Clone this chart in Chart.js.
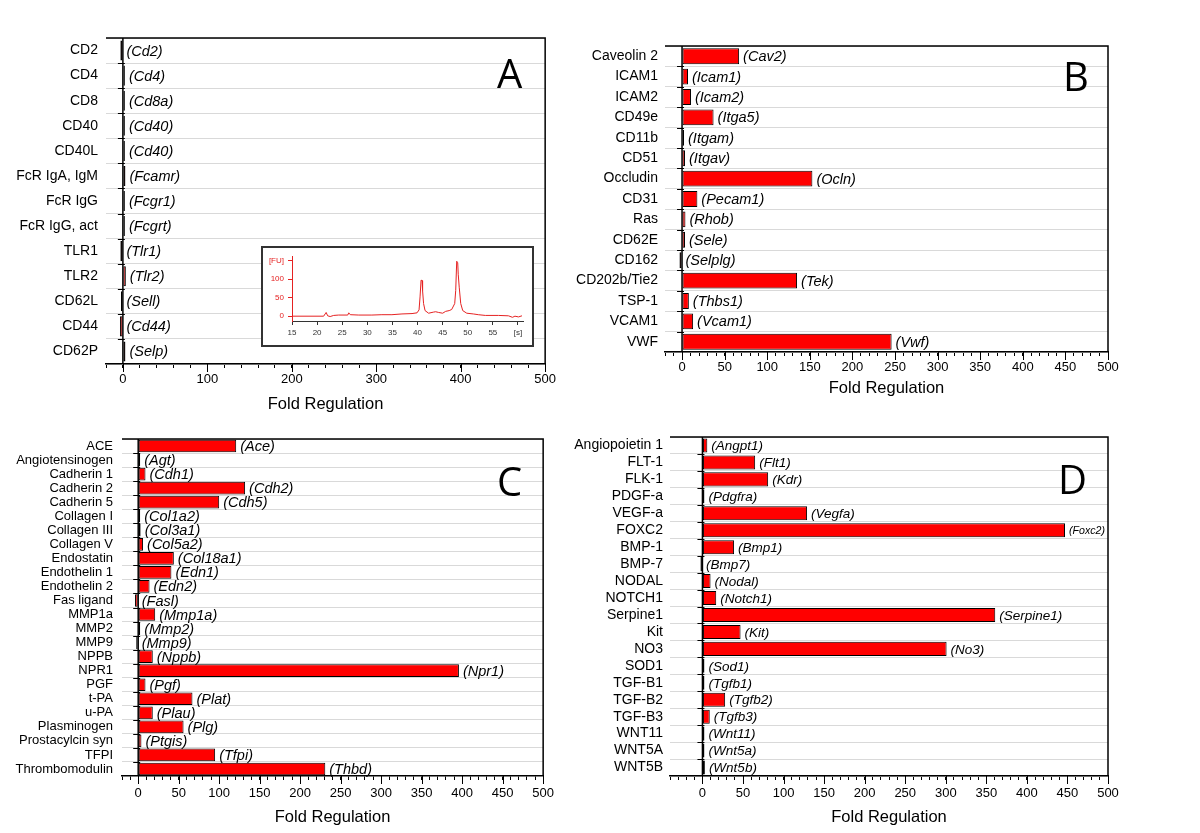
<!DOCTYPE html>
<html lang="en">
<head>
<meta charset="UTF-8">
<title>Fold Regulation</title>
<script src="https://cdn.jsdelivr.net/npm/chart.js"></script>
<style>
  body { margin: 0; background: #fff; }
  #page { position: relative; width: 1200px; height: 833px; overflow: hidden; background: #fff; }
  .panel { position: absolute; }
  .letter {
    position: absolute;
    font-family: 'Open Sans', sans-serif;
    font-size: 40px;
    line-height: 1;
    color: #000;
    z-index: 5;
  }
  #inset {
    position: absolute;
    left: 261px; top: 246px;
    width: 269px; height: 97px;
    border: 2px solid #333;
    background: #fff;
    z-index: 4;
  }
</style>
</head>
<body>
<div id="page">
  <div class="panel" style="left:0;top:0"><canvas id="chartA" width="560" height="420"></canvas></div>
  <div class="panel" style="left:560px;top:0"><canvas id="chartB" width="600" height="410"></canvas></div>
  <div class="panel" style="left:0;top:420px"><canvas id="chartC" width="560" height="413"></canvas></div>
  <div class="panel" style="left:560px;top:420px"><canvas id="chartD" width="600" height="413"></canvas></div>
  <div id="inset"><canvas id="chartInset" width="269" height="97"></canvas></div>
  <div class="letter" style="left:497px;top:53px">A</div>
  <div class="letter" style="left:1063px;top:56px">B</div>
  <div class="letter" style="left:497px;top:461px">C</div>
  <div class="letter" style="left:1058px;top:459px">D</div>
</div>

<script>
  // panel A
  const catA = ['CD2', 'CD4', 'CD8', 'CD40', 'CD40L', 'FcR IgA, IgM', 'FcR IgG', 'FcR IgG, act', 'TLR1', 'TLR2', 'CD62L', 'CD44', 'CD62P'];
  const geneA = ['Cd2', 'Cd4', 'Cd8a', 'Cd40', 'Cd40', 'Fcamr', 'Fcgr1', 'Fcgrt', 'Tlr1', 'Tlr2', 'Sell', 'Cd44', 'Selp'];
  const foldA = [-3, 1, 1, 1, 1, 3, 1, 1.5, -3, 3.5, -1, -3.5, 3];

  // panel B
  const catB = ['Caveolin 2', 'ICAM1', 'ICAM2', 'CD49e', 'CD11b', 'CD51', 'Occludin', 'CD31', 'Ras', 'CD62E', 'CD162', 'CD202b/Tie2', 'TSP-1', 'VCAM1', 'VWF'];
  const geneB = ['Cav2', 'Icam1', 'Icam2', 'Itga5', 'Itgam', 'Itgav', 'Ocln', 'Pecam1', 'Rhob', 'Sele', 'Selplg', 'Tek', 'Thbs1', 'Vcam1', 'Vwf'];
  const foldB = [67, 7, 10.5, 37, 1, 3.5, 153, 18, 4, 3.5, -3, 135, 8, 13, 246];

  // panel C
  const catC = ['ACE', 'Angiotensinogen', 'Cadherin 1', 'Cadherin 2', 'Cadherin 5', 'Collagen I', 'Collagen III', 'Collagen V',
    'Endostatin', 'Endothelin 1', 'Endothelin 2', 'Fas ligand', 'MMP1a', 'MMP2', 'MMP9', 'NPPB', 'NPR1', 'PGF', 't-PA', 'u-PA',
    'Plasminogen', 'Prostacylcin syn', 'TFPI', 'Thrombomodulin'];
  const geneC = ['Ace', 'Agt', 'Cdh1', 'Cdh2', 'Cdh5', 'Col1a2', 'Col3a1', 'Col5a2', 'Col18a1', 'Edn1', 'Edn2', 'Fasl', 'Mmp1a',
    'Mmp2', 'Mmp9', 'Nppb', 'Npr1', 'Pgf', 'Plat', 'Plau', 'Plg', 'Ptgis', 'Tfpi', 'Thbd'];
  const foldC = [121, 1, 9, 132, 100, 2, 3, 6, 44, 41, 14, -4, 21, 1, -2, 18, 396, 9, 67, 18, 56, 4, 95, 231];

  // panel D
  const catD = ['Angiopoietin 1', 'FLT-1', 'FLK-1', 'PDGF-a', 'VEGF-a', 'FOXC2', 'BMP-1', 'BMP-7', 'NODAL', 'NOTCH1', 'Serpine1',
    'Kit', 'NO3', 'SOD1', 'TGF-B1', 'TGF-B2', 'TGF-B3', 'WNT11', 'WNT5A', 'WNT5B'];
  const geneD = ['Angpt1', 'Flt1', 'Kdr', 'Pdgfra', 'Vegfa', 'Foxc2', 'Bmp1', 'Bmp7', 'Nodal', 'Notch1', 'Serpine1', 'Kit', 'No3',
    'Sod1', 'Tgfb1', 'Tgfb2', 'Tgfb3', 'Wnt11', 'Wnt5a', 'Wnt5b'];
  const foldD = [6, 65, 81, 1, 129, 447, 39, -1, 10, 17, 361, 47, 301, 1, 1, 28, 9, 1, 2, 3];

  // inset electropherogram (time in s, fluorescence in FU)
  const traceTime = [15, 21.3, 21.6, 21.8, 22.1, 22.6, 23.3, 24.3, 26.1, 26.3, 26.6, 28.3, 30.9, 32.9, 34.9, 36.9, 38.9, 39.9,
    40.3, 40.5, 40.7, 40.9, 41.0, 41.2, 41.5, 42.2, 43.2, 43.6, 44.2, 45.0, 45.6, 46.3, 46.8, 47.4, 47.6, 47.8, 48.0, 48.1,
    48.3, 48.6, 49.0, 49.8, 51.1, 52.1, 53.5, 56.1, 58.1, 58.9, 59.4, 60.1, 60.8];
  const traceFU = [0, 0, 6, 10, 1, -1, 2, 3, 3, 9, 4, 3, 3, 4, 4, 6, 7, 9,
    17, 52, 97, 96, 69, 34, 15, 8, 11, 12, 10, 8, 13, 15, 18, 34, 69, 148, 144, 113,
    78, 34, 15, 8, 6, 4, 2, 2, 1, -3, 0, -2, 1];

  const FAMILY = "'Liberation Sans', Arial, sans-serif";
  Chart.defaults.font.family = FAMILY;
  Chart.defaults.color = '#000';

  function decor(genes, cfg) {
    return {
      id: 'decor',
      afterDatasetsDraw(chart) {
        const { ctx, chartArea: a, scales: { x } } = chart;
        const x0 = x.getPixelForValue(0);
        const n = chart.data.labels.length;
        const rowH = (a.bottom - a.top) / n;

        ctx.save();
        ctx.strokeStyle = '#000';
        ctx.lineWidth = 1.5;
        ctx.beginPath();
        ctx.moveTo(a.left, a.top);
        ctx.lineTo(a.right, a.top);
        ctx.lineTo(a.right, a.bottom);
        ctx.moveTo(x0, a.top);
        ctx.lineTo(x0, a.bottom);
        ctx.stroke();

        ctx.lineWidth = 1;
        ctx.beginPath();
        for (let i = 1; i < n; i++) {
          const yy = Math.round(a.top + i * rowH) + 0.5;
          ctx.moveTo(x0 - 5, yy);
          ctx.lineTo(x0 + 2, yy);
        }
        x.ticks.forEach(t => {
          if (t.value >= 0 && t.value % cfg.major === 0) {
            const px = Math.round(x.getPixelForValue(t.value)) + 0.5;
            ctx.moveTo(px, a.bottom);
            ctx.lineTo(px, a.bottom + 8);
          }
        });
        ctx.stroke();

        ctx.fillStyle = '#000';
        ctx.textAlign = 'left';
        ctx.textBaseline = 'middle';
        chart.getDatasetMeta(0).data.forEach((bar, i) => {
          const text = '(' + genes[i] + ')';
          const sx = Math.max(bar.x, bar.base) + 4;
          let size = cfg.geneSize;
          ctx.font = 'italic ' + size + 'px ' + FAMILY;
          const w = ctx.measureText(text).width;
          if (sx + w > a.right - 3) size = size * (a.right - 3 - sx) / w;
          ctx.font = 'italic ' + size + 'px ' + FAMILY;
          ctx.fillText(text, sx, bar.y + 1);
        });
        ctx.restore();
      }
    };
  }

  function makePanel(id, cats, vals, genes, cfg) {
    const titleSize = 16.5;
    return new Chart(document.getElementById(id), {
      type: 'bar',
      data: {
        labels: cats,
        datasets: [{
          data: vals,
          backgroundColor: '#ff0000',
          borderColor: '#000',
          borderWidth: 1,
          borderSkipped: false,
          barPercentage: cfg.bar,
          categoryPercentage: 1,
          minBarLength: 2
        }]
      },
      options: {
        indexAxis: 'y',
        responsive: false,
        animation: false,
        events: [],
        layout: { padding: { top: cfg.top, right: cfg.w - cfg.right, left: 0, bottom: 0 } },
        plugins: { legend: { display: false }, tooltip: { enabled: false } },
        scales: {
          x: {
            type: 'linear',
            min: cfg.min,
            max: 500,
            afterFit: s => { s.height = cfg.h - cfg.bottom; },
            ticks: {
              stepSize: cfg.minor,
              autoSkip: false,
              maxRotation: 0,
              padding: cfg.tickPad,
              color: '#000',
              font: { size: 13 },
              callback: v => (v >= 0 && v % cfg.major === 0) ? v : ''
            },
            grid: { drawOnChartArea: false, drawTicks: true, tickLength: 4, tickColor: '#000', tickWidth: 1 },
            border: { display: true, color: '#000', width: 1.5 },
            title: {
              display: true,
              text: 'Fold Regulation',
              color: '#000',
              font: { size: titleSize },
              padding: { top: 0, bottom: cfg.h - cfg.titleY - titleSize * 0.6 }
            }
          },
          y: {
            afterFit: s => { s.width = cfg.left; },
            ticks: { color: '#000', font: { size: cfg.catSize }, padding: cfg.labelPad, autoSkip: false },
            grid: { color: '#d9d9d9', lineWidth: 1, drawTicks: false, offset: true },
            border: { display: false }
          }
        }
      },
      plugins: [decor(genes, cfg)]
    });
  }

  makePanel('chartA', catA, foldA, geneA, {
    w: 560, h: 420, left: 106, right: 548, top: 38, bottom: 364, min: -20, minor: 20, major: 100,
    bar: 0.8, catSize: 14, geneSize: 14.5, labelPad: 8, tickPad: 4, titleY: 404
  });
  makePanel('chartB', catB, foldB, geneB, {
    w: 600, h: 410, left: 105, right: 548, top: 46, bottom: 352, min: -20, minor: 10, major: 50,
    bar: 0.78, catSize: 14, geneSize: 14.5, labelPad: 7, tickPad: 4, titleY: 388
  });
  makePanel('chartC', catC, foldC, geneC, {
    w: 560, h: 413, left: 122, right: 549, top: 19, bottom: 356, min: -20, minor: 10, major: 50,
    bar: 0.9, catSize: 13, geneSize: 14.5, labelPad: 9, tickPad: 6, titleY: 397
  });
  makePanel('chartD', catD, foldD, geneD, {
    w: 600, h: 413, left: 110, right: 548, top: 17, bottom: 356, min: -40, minor: 10, major: 50,
    bar: 0.83, catSize: 14, geneSize: 13.5, labelPad: 7, tickPad: 6, titleY: 397
  });

  // inset trace
  new Chart(document.getElementById('chartInset'), {
    type: 'line',
    data: {
      datasets: [{
        data: traceTime.map((t, i) => ({ x: t, y: traceFU[i] })),
        borderColor: '#e52222',
        borderWidth: 1,
        pointRadius: 0,
        tension: 0
      }]
    },
    options: {
      responsive: false,
      animation: false,
      events: [],
      layout: { padding: { top: 7, right: 9, left: 0, bottom: 0 } },
      plugins: { legend: { display: false }, tooltip: { enabled: false } },
      scales: {
        x: {
          type: 'linear',
          min: 15,
          max: 61,
          afterFit: s => { s.height = 24; },
          ticks: {
            stepSize: 5,
            includeBounds: false,
            autoSkip: false,
            maxRotation: 0,
            padding: 3,
            color: '#333',
            font: { size: 8 },
            callback: v => v === 60 ? '[s]' : v
          },
          grid: { drawOnChartArea: false, tickLength: 4, tickColor: '#333' },
          border: { color: '#333', width: 1 }
        },
        y: {
          min: -13,
          max: 160,
          afterFit: s => { s.width = 29; },
          ticks: {
            stepSize: 50,
            includeBounds: false,
            padding: 4,
            color: '#e52222',
            font: { size: 8 },
            callback: v => v === 150 ? '[FU]' : v
          },
          grid: { drawOnChartArea: false, tickLength: 4, tickColor: '#e52222' },
          border: { color: '#e52222', width: 1 }
        }
      }
    }
  });
</script>
</body>
</html>
